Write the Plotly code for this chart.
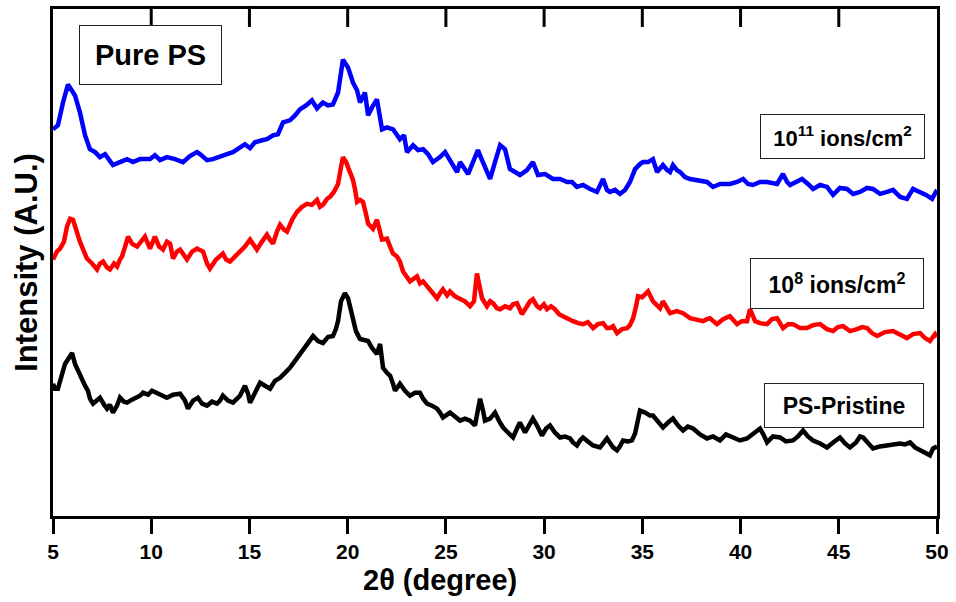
import plotly.graph_objects as go

# 2-theta positions (degree) and intensities (A.U.)
x_ions_1e11 = [5.00, 5.25, 5.51, 5.76, 6.12, 6.37, 6.63, 6.88, 7.14, 7.39, 7.65, 8.05, 8.41, 8.77, 9.07,
               9.43, 9.94, 10.19, 10.45, 10.80, 11.21, 11.62, 11.97, 12.33, 12.48, 12.84, 13.14, 13.50,
               13.86, 14.16, 14.52, 14.77, 15.03, 15.28, 15.64, 15.89, 16.20, 16.45, 16.71, 17.06, 17.32,
               17.57, 17.88, 18.18, 18.44, 18.74, 19.00, 19.25, 19.51, 19.76, 20.02, 20.27, 20.48, 20.63,
               20.88, 21.04, 21.24, 21.49, 21.75, 22.00, 22.31, 22.66, 22.87, 23.02, 23.33, 23.58, 23.84,
               24.09, 24.34, 24.70, 24.96, 25.21, 25.57, 25.72, 25.87, 26.13, 26.38, 26.63, 26.84, 27.04,
               27.25, 27.50, 27.76, 28.01, 28.26, 28.52, 28.77, 29.13, 29.43, 29.69, 30.05, 30.45, 30.81,
               31.17, 31.42, 31.67, 31.98, 32.34, 32.69, 33.00, 33.20, 33.35, 33.61, 33.86, 34.12, 34.37,
               34.63, 34.88, 35.03, 35.29, 35.54, 35.75, 36.05, 36.26, 36.41, 36.56, 36.76, 36.92, 37.17,
               37.43, 37.78, 38.29, 38.60, 38.95, 39.46, 39.82, 40.13, 40.38, 40.63, 40.99, 41.35, 41.60,
               41.86, 42.16, 42.37, 42.52, 42.77, 43.13, 43.43, 43.69, 44.05, 44.40, 44.71, 45.06, 45.42,
               45.73, 46.08, 46.44, 46.74, 47.10, 47.46, 47.76, 48.12, 48.47, 48.78, 49.14, 49.44, 49.75,
               50.00]
y_ions_1e11 = [389, 393, 416, 434, 423, 406, 383, 369, 366, 361, 364, 353, 356, 359, 356,
               359, 359, 363, 358, 361, 359, 356, 362, 366, 364, 358, 359, 362,
               364, 366, 371, 374, 370, 376, 378, 379, 383, 384, 396, 398, 403,
               409, 413, 418, 410, 416, 413, 414, 426, 459, 451, 436, 428, 416,
               426, 403, 411, 419, 389, 391, 389, 379, 383, 366, 373, 368, 369,
               364, 356, 361, 366, 358, 346, 356, 351, 344, 356, 368, 358, 348,
               339, 356, 373, 369, 349, 346, 343, 348, 356, 343, 344, 339, 339,
               336, 336, 331, 333, 329, 326, 339, 328, 326, 328, 324, 328, 336,
               349, 354, 356, 356, 359, 346, 353, 348, 346, 353, 348, 346, 341,
               339, 338, 336, 331, 334, 334, 336, 339, 334, 333, 336, 336, 335,
               334, 344, 336, 333, 336, 339, 334, 329, 333, 331, 323, 330, 329,
               324, 326, 330, 329, 324, 326, 328, 321, 319, 329, 326, 323, 319,
               328]

x_ions_1e8 = [5.00, 5.20, 5.36, 5.56, 5.71, 5.87, 6.02, 6.17, 6.37, 6.58, 6.73, 6.99, 7.24, 7.39, 7.55,
              7.75, 7.90, 8.11, 8.26, 8.41, 8.51, 8.67, 8.82, 9.02, 9.28, 9.48, 9.68, 9.94, 10.19, 10.40,
              10.60, 10.80, 10.96, 11.11, 11.31, 11.47, 11.67, 11.82, 12.08, 12.33, 12.64, 12.84, 12.99,
              13.30, 13.65, 13.81, 14.01, 14.27, 14.52, 14.77, 15.03, 15.23, 15.38, 15.64, 15.89, 16.04,
              16.20, 16.40, 16.56, 16.76, 16.91, 17.17, 17.42, 17.68, 17.93, 18.18, 18.44, 18.59, 18.74,
              18.95, 19.10, 19.30, 19.51, 19.66, 19.76, 19.92, 20.12, 20.27, 20.37, 20.48, 20.63, 20.78,
              20.93, 21.04, 21.29, 21.49, 21.75, 22.00, 22.16, 22.31, 22.51, 22.66, 22.82, 23.02, 23.17,
              23.53, 23.68, 23.84, 24.04, 24.19, 24.55, 24.70, 24.85, 25.06, 25.21, 25.46, 25.72, 25.97,
              26.23, 26.43, 26.58, 26.74, 26.84, 27.09, 27.25, 27.40, 27.60, 27.76, 28.01, 28.26, 28.42,
              28.62, 28.87, 29.13, 29.28, 29.43, 29.64, 29.79, 29.99, 30.15, 30.35, 30.55, 30.76, 30.96,
              31.22, 31.47, 31.73, 31.98, 32.23, 32.49, 32.74, 33.00, 33.20, 33.35, 33.51, 33.71, 33.97,
              34.22, 34.37, 34.53, 34.68, 34.78, 34.99, 35.14, 35.29, 35.54, 35.75, 35.90, 36.05, 36.26,
              36.41, 36.76, 37.07, 37.43, 37.78, 38.09, 38.29, 38.44, 38.80, 39.11, 39.46, 39.82, 40.07,
              40.33, 40.48, 40.74, 40.99, 41.35, 41.60, 41.86, 42.16, 42.42, 42.67, 43.03, 43.38, 43.69,
              44.05, 44.40, 44.71, 44.96, 45.22, 45.57, 45.93, 46.18, 46.44, 46.69, 46.95, 47.35, 47.76,
              48.12, 48.47, 48.78, 49.14, 49.39, 49.64, 49.90, 50.00]
y_ions_1e8 = [258, 266, 269, 276, 291, 299, 298, 288, 276, 266, 259, 254, 248, 254, 256,
              250, 248, 254, 251, 258, 261, 271, 281, 274, 271, 276, 281, 269, 281, 271,
              268, 276, 274, 259, 266, 268, 261, 258, 266, 269, 266, 254, 249,
              258, 264, 258, 256, 261, 266, 271, 278, 271, 268, 276, 283, 278,
              274, 286, 293, 288, 286, 298, 306, 311, 314, 313, 318, 311, 313,
              319, 321, 326, 334, 351, 361, 356, 346, 338, 329, 316, 318, 316,
              304, 294, 289, 298, 278, 279, 271, 264, 261, 256, 246, 240, 236,
              241, 234, 236, 231, 229, 219, 224, 228, 222, 226, 221, 218, 216,
              211, 216, 244, 231, 219, 211, 216, 214, 209, 208, 211, 209, 213,
              214, 203, 211, 216, 218, 211, 209, 213, 208, 211, 208, 203, 201,
              198, 196, 194, 193, 195, 189, 193, 194, 189, 189, 191, 184, 188,
              189, 192, 199, 211, 221, 220, 223, 226, 216, 211, 209, 216, 208,
              204, 206, 204, 199, 198, 196, 198, 199, 193, 198, 201, 193, 196,
              196, 208, 196, 194, 193, 198, 199, 189, 193, 193, 189, 189, 192,
              193, 188, 186, 190, 191, 186, 188, 190, 189, 184, 181, 185, 186,
              182, 179, 183, 184, 179, 176, 183, 180]

x_pristine = [5.00, 5.10, 5.25, 5.41, 5.61, 5.81, 5.97, 6.12, 6.27, 6.48, 6.63, 6.78, 6.88, 7.04, 7.24,
              7.39, 7.60, 7.75, 7.90, 8.05, 8.26, 8.41, 8.61, 8.77, 9.02, 9.28, 9.43, 9.58, 9.84, 10.04,
              10.29, 10.55, 10.80, 11.11, 11.47, 11.72, 11.87, 12.13, 12.38, 12.59, 12.84, 13.09, 13.35,
              13.50, 13.65, 13.91, 14.16, 14.37, 14.52, 14.77, 14.93, 15.03, 15.28, 15.54, 15.79, 16.05,
              16.30, 16.56, 16.81, 17.06, 17.32, 17.57, 17.83, 18.08, 18.24, 18.49, 18.74, 19.00, 19.25,
              19.40, 19.51, 19.66, 19.86, 20.02, 20.12, 20.27, 20.42, 20.63, 20.83, 21.04, 21.24, 21.49,
              21.65, 21.80, 22.00, 22.16, 22.31, 22.41, 22.56, 22.66, 22.92, 23.17, 23.43, 23.68, 23.84,
              24.04, 24.29, 24.55, 24.70, 24.85, 25.06, 25.21, 25.46, 25.72, 25.97, 26.23, 26.48, 26.63,
              26.74, 26.89, 26.99, 27.25, 27.50, 27.70, 27.91, 28.16, 28.42, 28.62, 28.77, 29.03, 29.23,
              29.43, 29.64, 29.89, 30.10, 30.30, 30.55, 30.81, 31.06, 31.32, 31.47, 31.67, 31.83, 31.98,
              32.23, 32.49, 32.85, 33.05, 33.20, 33.51, 33.71, 33.86, 34.02, 34.27, 34.47, 34.63, 34.78,
              34.88, 35.14, 35.39, 35.54, 35.75, 35.90, 36.05, 36.31, 36.56, 36.82, 37.07, 37.32, 37.58,
              37.94, 38.29, 38.60, 38.95, 39.26, 39.62, 39.97, 40.33, 40.63, 40.99, 41.19, 41.35, 41.65,
              42.01, 42.31, 42.67, 42.92, 43.18, 43.43, 43.69, 44.05, 44.40, 44.71, 45.06, 45.32, 45.57,
              45.88, 46.08, 46.24, 46.49, 46.74, 47.10, 47.46, 47.76, 48.12, 48.37, 48.63, 48.88, 49.14,
              49.39, 49.64, 49.80, 50.00]
y_pristine = [133, 128, 128, 138, 153, 159, 164, 153, 146, 138, 131, 126, 118, 113, 116,
              119, 112, 108, 112, 104, 111, 119, 115, 114, 117, 119, 121, 124, 122, 126,
              124, 121, 119, 122, 123, 116, 108, 116, 119, 113, 111, 115, 113,
              116, 121, 116, 114, 118, 121, 131, 123, 114, 124, 134, 131, 128,
              136, 139, 144, 149, 156, 163, 171, 178, 181, 176, 174, 180, 181,
              188, 196, 216, 224, 219, 211, 196, 186, 178, 177, 176, 169, 163,
              173, 149, 144, 141, 133, 126, 130, 133, 126, 121, 124, 124, 118,
              113, 111, 108, 104, 99, 102, 104, 100, 96, 98, 96, 91, 106,
              118, 106, 96, 98, 104, 96, 89, 84, 79, 88, 94, 84, 91,
              98, 91, 81, 88, 91, 84, 79, 80, 78, 74, 71, 76, 79,
              75, 71, 69, 75, 78, 69, 66, 70, 76, 75, 76, 83, 96,
              106, 104, 101, 101, 96, 93, 89, 94, 98, 91, 86, 90, 88,
              82, 78, 80, 76, 82, 79, 76, 78, 82, 88, 81, 74, 80,
              79, 75, 76, 80, 86, 80, 76, 73, 69, 74, 79, 73, 69,
              74, 80, 79, 73, 68, 70, 71, 72, 73, 72, 74, 69, 66,
              64, 61, 68, 70]

x_ticks = [5, 10, 15, 20, 25, 30, 35, 40, 45, 50]
x_tick_labels = ["5", "10", "15", "20", "25", "30", "35", "40", "45", "50"]

FONT = "Arial, Liberation Sans, Helvetica, sans-serif"
LW = 4.5
Y_MAX = 510          # plot area is 510 px tall, so one y unit is one pixel
TICK_LEN = 15

fig = go.Figure()
fig.add_trace(go.Scatter(x=x_ions_1e11, y=y_ions_1e11, mode="lines",
                         line=dict(color="#0000FF", width=LW), name="10^11 ions/cm^2"))
fig.add_trace(go.Scatter(x=x_ions_1e8, y=y_ions_1e8, mode="lines",
                         line=dict(color="#FF0000", width=LW), name="10^8 ions/cm^2"))
fig.add_trace(go.Scatter(x=x_pristine, y=y_pristine, mode="lines",
                         line=dict(color="#000000", width=LW), name="PS-Pristine"))

# tick marks: outward below the bottom axis, inward below the top frame line
tick_marker = dict(symbol="line-ns", size=TICK_LEN, color="black",
                   line=dict(color="black", width=3))
fig.add_trace(go.Scatter(x=x_ticks, y=[-TICK_LEN / 2] * len(x_ticks), mode="markers",
                         marker=tick_marker, cliponaxis=False, showlegend=False,
                         hoverinfo="skip"))
fig.add_trace(go.Scatter(x=x_ticks[1:-1], y=[Y_MAX - TICK_LEN / 2] * (len(x_ticks) - 2),
                         mode="markers", marker=tick_marker, cliponaxis=False,
                         showlegend=False, hoverinfo="skip"))

fig.update_layout(
    width=956, height=602,
    margin=dict(l=53, r=19, t=6, b=86),
    paper_bgcolor="white", plot_bgcolor="white",
    showlegend=False,
    xaxis=dict(range=[5, 50], tickvals=x_ticks,
               ticktext=["<b>%s</b>" % t for t in x_tick_labels],
               ticks="outside", ticklen=TICK_LEN, tickwidth=3,
               tickcolor="black", showline=True, linewidth=3, linecolor="black", mirror=True,
               showgrid=False, zeroline=False,
               tickfont=dict(family=FONT, size=21, color="black")),
    yaxis=dict(range=[0, Y_MAX], showticklabels=False, showline=True, linewidth=3,
               linecolor="black", mirror=True, showgrid=False, zeroline=False,
               title=dict(text="<b>Intensity (A.U.)</b>", standoff=4,
                          font=dict(family=FONT, size=31, color="black"))),
)

# x-axis title (sits left of centre in the reference)
fig.add_annotation(text="<b>2θ (degree)</b>", xref="paper", yref="paper",
                   x=(440 - 53) / 884, y=(516 - 580) / 510, xanchor="center", yanchor="middle",
                   showarrow=False, font=dict(family=FONT, size=29, color="black"))

def box(text, xc, yc, w, h, size):
    fig.add_annotation(text="<b>%s</b>" % text, xref="paper", yref="paper", x=xc, y=yc,
                       xanchor="center", yanchor="middle", showarrow=False,
                       width=w, height=h, borderpad=0, bordercolor="#222222", borderwidth=1,
                       bgcolor="white", font=dict(family=FONT, size=size, color="black"))

# paper coordinates of label boxes: plot area spans x 53..937 px, y 6..516 px
box("Pure PS", (150.5 - 53) / 884, (516 - 52) / 510, 141, 58, 29)
box("10<sup>11</sup> ions/cm<sup>2</sup>", (842.5 - 53) / 884, (516 - 134.5) / 510, 163, 43, 22)
box("10<sup>8</sup> ions/cm<sup>2</sup>", (837 - 53) / 884, (516 - 282.5) / 510, 172, 49, 23)
box("PS-Pristine", (844 - 53) / 884, (516 - 404.5) / 510, 158, 43, 23)

fig.write_html("out.html")
